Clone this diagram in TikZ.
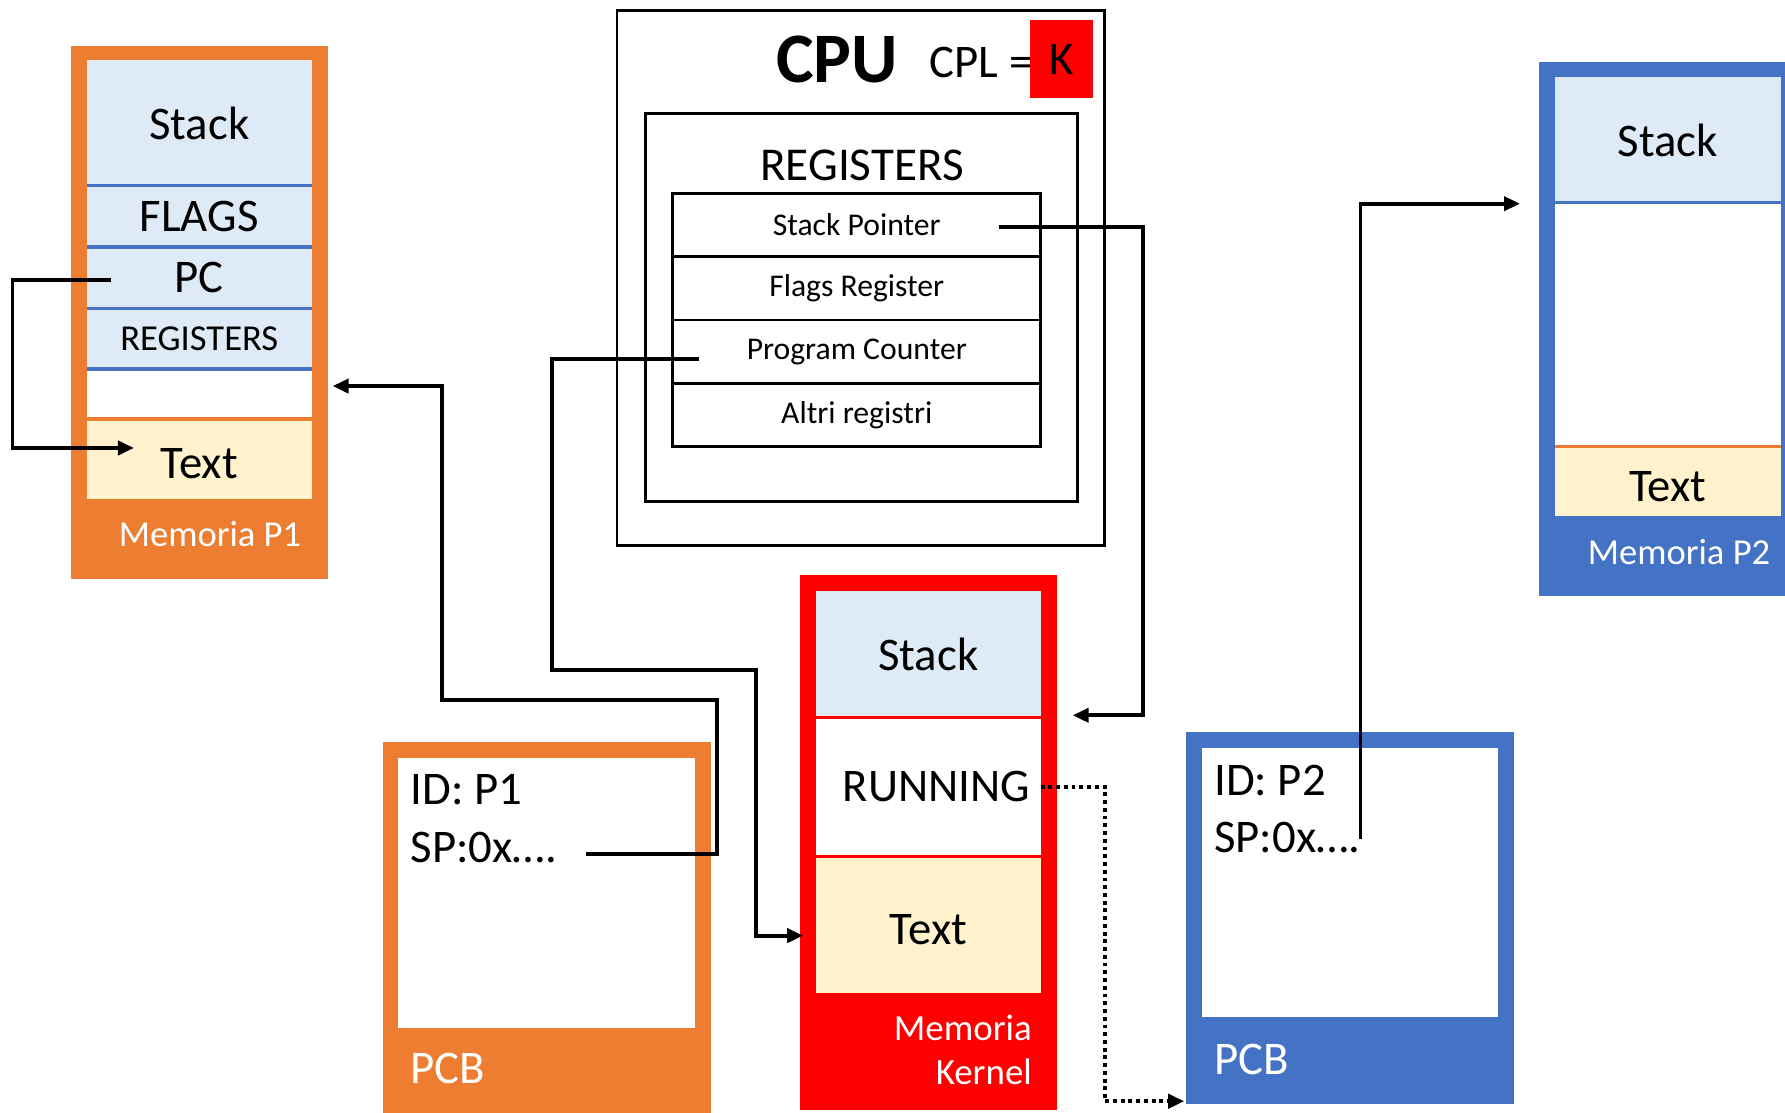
\documentclass[tikz,border=0pt]{standalone}
\usepackage{fontspec}
\setmainfont{Carlito}
\usetikzlibrary{arrows.meta, positioning, calc}

\definecolor{memorange}{HTML}{ED7D31}
\definecolor{memblue}{HTML}{4472C4}
\definecolor{stackfill}{HTML}{DEEBF7}
\definecolor{textfill}{HTML}{FFF2CC}
\definecolor{kernelred}{HTML}{FF0000}

\begin{document}
\begin{tikzpicture}[
    x=0.01cm, y=-0.01cm,
    node distance=0pt,
    frame/.style={rectangle, inner sep=0pt, outer sep=0pt, anchor=north west},
    cell/.style={rectangle, inner sep=0pt, outer sep=0pt, minimum width=2.255cm,
                 font=\fontsize{13.3}{16}\selectfont},
    textcell/.style={cell, fill=textfill, text height=0.4cm},
    regrow/.style={rectangle, draw=black, line width=0.8pt, inner sep=0pt, outer sep=0pt,
                   minimum width=3.677cm, minimum height=0.632cm, font=\fontsize{9}{11}\selectfont},
    memlabel/.style={text=white, inner sep=0pt, font=\fontsize{10.4}{12.5}\selectfont},
    pcblabel/.style={text=white, inner sep=0pt, anchor=west, font=\fontsize{13.3}{16}\selectfont},
    pcbinfo/.style={inner sep=0pt, anchor=north west, align=left, font=\fontsize{13.3}{16.4}\selectfont},
    sepline/.style={line width=1pt},
    conn/.style={-{Triangle[length=0.16cm, width=0.14cm]}, line width=1.1pt},
    dotline/.style={dash pattern=on 1.1pt off 1.1pt},
]
\useasboundingbox (0,0) rectangle (1785,1112);

%% Memoria P1
\node[frame, fill=memorange, minimum width=2.573cm, minimum height=5.328cm] (p1mem) at (70.6,45.5) {};
\node[cell, fill=stackfill, minimum height=1.253cm, anchor=north west] (p1stack) at (86.5,60.3) {Stack};
\node[cell, fill=stackfill, minimum height=0.614cm, below=of p1stack] (p1flags) {FLAGS};
\node[cell, fill=stackfill, minimum height=0.615cm, below=of p1flags] (p1pc) {PC};
\node[cell, fill=stackfill, minimum height=0.603cm, below=of p1pc,
      font=\fontsize{10.4}{12.5}\selectfont] (p1regs) {REGISTERS};
\node[cell, fill=white, minimum height=0.501cm, below=of p1regs] (p1free) {};
\node[textcell, minimum height=0.797cm, below=of p1free] (p1text) {Text};
\node[memlabel] (p1lbl) at (210,534) {Memoria P1};
\foreach \r in {p1stack, p1flags, p1pc, p1regs}
    \draw[sepline, memblue] (\r.south west) -- (\r.south east);
\draw[sepline, memorange] (p1free.south west) -- (p1free.south east);

%% CPU
\node[frame, draw, line width=0.8pt, minimum width=4.87cm, minimum height=5.351cm] (cpu) at (617,10.2) {};
\node[font=\fontsize{20.2}{24}\selectfont\bfseries, inner sep=0pt] (cputitle) at (837,59) {CPU};
\node[anchor=west, inner sep=0pt, font=\fontsize{13.3}{16}\selectfont] (cpl) at (929,62) {CPL =};
\node[fill=kernelred, inner sep=0pt, minimum width=0.63cm, minimum height=0.774cm,
      font=\fontsize{13.3}{16}\selectfont] (ring) at (1061.5,59.2) {K};
\node[frame, draw, line width=0.8pt, minimum width=4.315cm, minimum height=3.871cm] (regbox) at (645.5,113.8) {};
\node[inner sep=0pt, font=\fontsize{13.4}{16}\selectfont] (regtitle) at (862,165) {REGISTERS};
\node[regrow, anchor=north west] (rsp) at (672.8,193.5) {Stack Pointer};
\node[regrow, below=of rsp] (rflags) {Flags Register};
\node[regrow, below=of rflags] (rpc) {Program Counter};
\node[regrow, below=of rpc] (rother) {Altri registri};

%% Memoria Kernel
\node[frame, fill=kernelred, minimum width=2.561cm, minimum height=5.351cm] (kmem) at (800.3,574.9) {};
\node[cell, fill=stackfill, minimum width=2.243cm, minimum height=1.264cm, anchor=north west] (kstack) at (816.2,590.8) {Stack};
\node[cell, fill=white, minimum width=2.243cm, minimum height=1.389cm, below=of kstack] (krun) {\hspace*{0.16cm}RUNNING};
\node[textcell, minimum width=2.243cm, minimum height=1.366cm, below=of krun] (ktext) {Text};
\node[memlabel, align=right, anchor=east, font=\fontsize{10.5}{12.6}\selectfont] (klbl) at (1032.5,1050) {Memoria\\Kernel};
\foreach \r in {kstack, krun}
    \draw[sepline, kernelred] (\r.south west) -- (\r.south east);

%% Memoria P2
\node[frame, fill=memblue, minimum width=2.62cm, minimum height=5.339cm] (p2mem) at (1539,61.5) {};
\node[cell, fill=stackfill, minimum width=2.257cm, minimum height=1.252cm, anchor=north west] (p2stack) at (1555,77.4) {Stack};
\node[cell, fill=white, minimum width=2.257cm, minimum height=2.437cm, below=of p2stack] (p2free) {};
\node[textcell, minimum width=2.257cm, minimum height=0.694cm, below=of p2free] (p2text) {Text};
\node[memlabel] (p2lbl) at (1679,552) {Memoria P2};
\draw[sepline, memblue] (p2stack.south west) -- (p2stack.south east);
\draw[sepline, memorange] (p2free.south west) -- (p2free.south east);

%% PCB
\node[frame, fill=memorange, minimum width=3.279cm, minimum height=3.8cm] (pcb1) at (382.5,742) {};
\node[frame, fill=white, minimum width=2.96cm, minimum height=2.70cm] (pcb1in) at (398.4,758) {};
\node[pcbinfo] (pcb1info) at ($(pcb1in.north west)+(11.6,16)$) {ID: P1\\SP:0x….};
\node[pcblabel] (pcb1lbl) at (410,1068) {PCB};

\node[frame, fill=memblue, minimum width=3.278cm, minimum height=3.72cm] (pcb2) at (1186.2,732) {};
\node[frame, fill=white, minimum width=2.96cm, minimum height=2.686cm] (pcb2in) at (1202,748) {};
\node[pcbinfo] (pcb2info) at ($(pcb2in.north west)+(11.5,16)$) {ID: P2\\SP:0x….};
\node[pcblabel] (pcb2lbl) at (1213.5,1059) {PCB};

%% Connectors
\draw[conn] ($(p1pc.west)+(24,2)$) -- ++(-98,0) |- ($(p1text.west)+(47.5,-11)$);
\draw[conn] ($(rpc.west)+(26,7)$) -- ++(-147,0) -- ++(0,311.2) -- ++(204.2,0)
    |- ($(ktext.west)+(-13,11)$);
\draw[conn] ($(pcb1in.north west)+(187.6,95.8)$) -- ++(131,0) -- ++(0,-153.8) -- ++(-275.3,0)
    |- ($(p1free.east)+(20.5,-8)$);
\draw[conn] ($(rsp.east)+(-42,2.3)$) -- ++(144.6,0) |- ($(kstack.south east)+(32,-2)$);
\draw[conn, dotline] (krun.east) -- ++(64,0) |- ($(pcb2.south west)+(-2,-3)$);
\draw[conn] ($(pcb2in.north west)+(158.5,91)$) |- ($(p2stack.south west)+(-35,1)$);

\end{tikzpicture}
\end{document}
